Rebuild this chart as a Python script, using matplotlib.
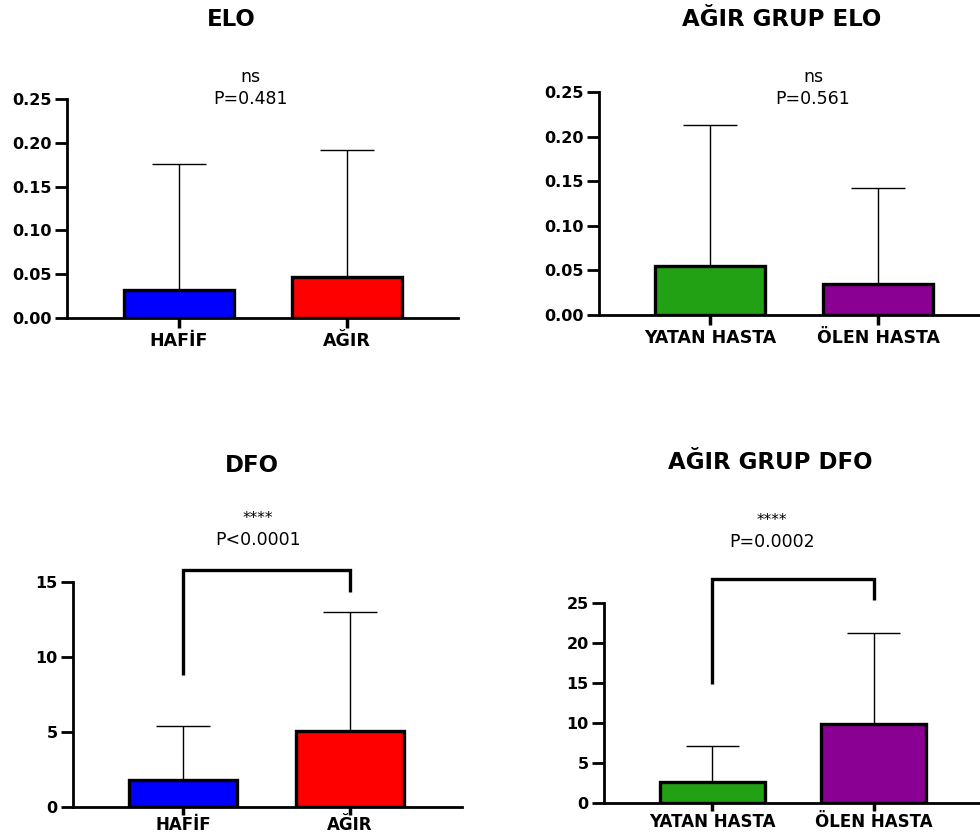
import matplotlib
matplotlib.use("Agg")
import matplotlib.pyplot as plt

W, H = 980, 836
plt.rcParams['font.family'] = ['DejaVu Sans']

# ---- data ----
cats_a = ["HAFİF", "AĞIR"]
cats_b = ["YATAN HASTA", "ÖLEN HASTA"]
colors_a = ["#0000FF", "#FF0000"]
colors_b = ["#22A115", "#8A0092"]

elo_mean = [0.032, 0.047]
elo_sd = [0.144, 0.145]
elo_ticks = [0.00, 0.05, 0.10, 0.15, 0.20, 0.25]
elo_ticklabels = ["0.00", "0.05", "0.10", "0.15", "0.20", "0.25"]

agir_elo_mean = [0.055, 0.035]
agir_elo_sd = [0.158, 0.107]

dfo_mean = [1.78, 5.05]
dfo_sd = [3.60, 7.91]
dfo_ticks = [0, 5, 10, 15]
dfo_bracket = [8.8, 15.8, 14.3]

agir_dfo_mean = [2.7, 9.9]
agir_dfo_sd = [4.5, 11.4]
agir_dfo_ticks = [0, 5, 10, 15, 20, 25]
agir_dfo_bracket = [14.9, 28.0, 25.4]

titles = ["ELO", "AĞIR GRUP ELO", "DFO", "AĞIR GRUP DFO"]
stars = ["ns", "ns", "****", "****"]
pvals = ["P=0.481", "P=0.561", "P<0.0001", "P=0.0002"]

fig = plt.figure(figsize=(W / 100, H / 100), dpi=100)


def make_ax(left, right, bottom, top, xl, xr, ytop, xpad=3, xlen=7):
    ax = fig.add_axes([left / W, 1 - bottom / H, (right - left) / W, (bottom - top) / H])
    ax.set_xlim(xl, xr)
    ax.set_ylim(0, ytop)
    for s in ["top", "right"]:
        ax.spines[s].set_visible(False)
    for s in ["left", "bottom"]:
        ax.spines[s].set_linewidth(2.0)
    ax.tick_params(axis="y", direction="out", length=9, width=2.0, labelsize=11.5, pad=2)
    ax.tick_params(axis="x", direction="out", length=xlen, width=2.5, pad=xpad)
    return ax


def draw_bars(ax, cats, means, sds, colors, ticks, ticklabels=None, width=0.65, xfs=12.5):
    x = list(range(len(cats)))
    for xi, m, s in zip(x, means, sds):
        ax.vlines(xi, m, m + s, color="black", linewidth=1.0, zorder=1)
        ax.hlines(m + s, xi - width / 4, xi + width / 4, color="black", linewidth=1.0, zorder=1)
    ax.bar(x, means, width=width, color=colors, edgecolor="black", linewidth=2.4, zorder=2)
    ax.set_xticks(x)
    ax.set_xticklabels(cats, fontweight="bold", fontsize=xfs)
    ax.set_yticks(ticks)
    if ticklabels is not None:
        ax.set_yticklabels(ticklabels)
    for lab in ax.get_yticklabels():
        lab.set_fontweight("bold")
        lab.set_fontsize(11.5)


def bracket(ax, b):
    ax.plot([0, 0, 1, 1], [b[0], b[1], b[1], b[2]], color="black", linewidth=2.4,
            clip_on=False, solid_joinstyle="miter", solid_capstyle="butt", zorder=3)


# Panel 1
ax1 = make_ax(67, 458, 318, 99, -0.667, 1.661, 0.25)
draw_bars(ax1, cats_a, elo_mean, elo_sd, colors_a, elo_ticks, elo_ticklabels)

# Panel 2
ax2 = make_ax(599, 985, 315, 92, -0.661, 1.637, 0.25)
draw_bars(ax2, cats_b, agir_elo_mean, agir_elo_sd, colors_b, elo_ticks, elo_ticklabels)

# Panel 3
ax3 = make_ax(73, 462, 806.7, 581.7, -0.659, 1.671, 15, xpad=0.5, xlen=6)
draw_bars(ax3, cats_a, dfo_mean, dfo_sd, colors_a, dfo_ticks, xfs=12)
bracket(ax3, dfo_bracket)

# Panel 4
ax4 = make_ax(604, 985, 803.3, 603.3, -0.671, 1.69, 25, xpad=1, xlen=6)
draw_bars(ax4, cats_b, agir_dfo_mean, agir_dfo_sd, colors_b, agir_dfo_ticks, xfs=12)
bracket(ax4, agir_dfo_bracket)

# titles & annotations (pixel positions)
title_pos = [(231, 20), (782, 20), (252, 466), (770, 462)]
star_pos = [(250, 77), (813, 77), (258, 516), (772, 518)]
p_pos = [(250, 99), (813, 99), (258, 540), (772, 542)]

for t, (x, y) in zip(titles, title_pos):
    fig.text(x / W, 1 - y / H, t, ha="center", va="center", fontsize=16.5,
             fontweight="bold")
for t, (x, y) in zip(stars, star_pos):
    fs = 12.5 if t == "ns" else 11
    yy = y if t == "ns" else y + 3
    fig.text(x / W, 1 - yy / H, t, ha="center", va="center", fontsize=fs)
for t, (x, y) in zip(pvals, p_pos):
    fig.text(x / W, 1 - y / H, t, ha="center", va="center", fontsize=12.5)

fig.savefig("out.png", dpi=100)
